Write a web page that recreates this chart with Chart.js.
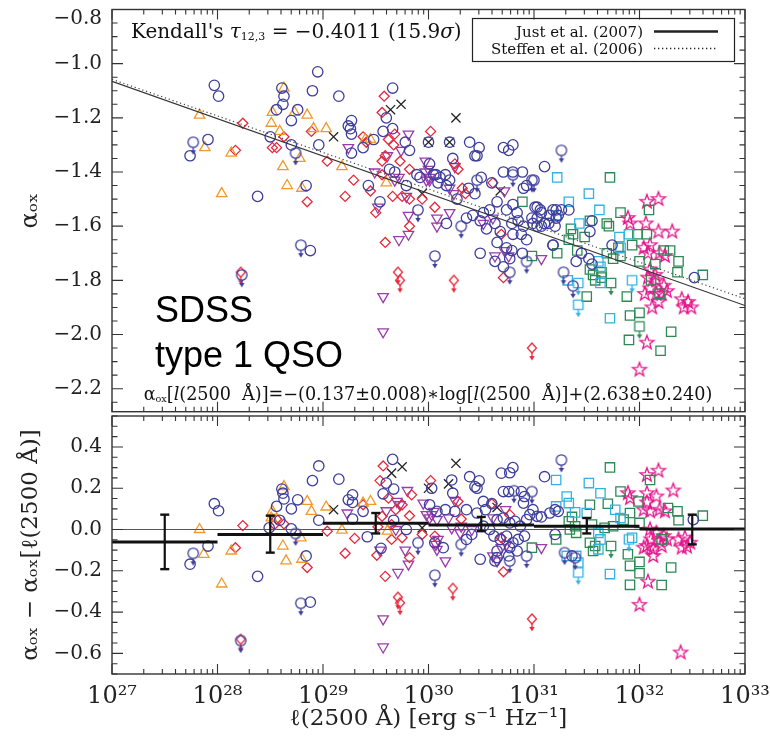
<!DOCTYPE html>
<html>
<head>
<meta charset="utf-8">
<script src="https://cdn.jsdelivr.net/npm/chart.js@4.4.0/dist/chart.umd.min.js"></script>
<style>
  html, body { margin: 0; padding: 0; background: #fff; }
  #wrap { position: relative; width: 770px; height: 741px; overflow: hidden; }
  #topChart { position: absolute; left: 0; top: 0; }
  #botChart { position: absolute; left: 0; top: 400px; }
</style>
</head>
<body>
<div id="wrap">
  <canvas id="topChart" width="770" height="420"></canvas>
  <canvas id="botChart" width="770" height="341"></canvas>
</div>
<script>
// x values are log10 of l(2500 A)

// ---- upper panel: alpha_ox vs luminosity ----
const topCircles = [
  [27.97,-1.08],[28.01,-1.12],[28.95,-1.03],[28.90,-1.10],[29.15,-1.12],[28.61,-1.09],[28.63,-1.12],
  [28.62,-1.15],[28.56,-1.17],[28.76,-1.17],[28.70,-1.21],[28.50,-1.27],[28.70,-1.30],[28.96,-1.30],
  [27.91,-1.28],[27.74,-1.34],[28.84,-1.45],[28.38,-1.49],[28.88,-1.69],[29.24,-1.23],[29.66,-1.09],
  [29.60,-1.20],[29.66,-1.24],[29.27,-1.21],[29.26,-1.24],[29.27,-1.26],[29.57,-1.25],[29.38,-1.31],
  [29.48,-1.28],[29.27,-1.33],[29.82,-1.32],[29.78,-1.29],[30.00,-1.29],[30.20,-1.29],[30.39,-1.29],
  [30.48,-1.31],[30.44,-1.34],[30.46,-1.34],[30.23,-1.35],[30.71,-1.31],[30.80,-1.30],[30.76,-1.32],
  [31.10,-1.38],[30.71,-1.40],[30.80,-1.40],[30.89,-1.40],[29.63,-1.39],[29.68,-1.40],[30.01,-1.37],
  [30.16,-1.41],[30.07,-1.41],[29.43,-1.45],[29.79,-1.45],[29.89,-1.41],[29.92,-1.42],[30.05,-1.41],
  [30.11,-1.42],[30.09,-1.44],[30.20,-1.43],[30.17,-1.45],[30.27,-1.50],[30.38,-1.46],[30.44,-1.48],
  [30.50,-1.42],[30.60,-1.44],[30.90,-1.46],[30.93,-1.45],[29.54,-1.51],[30.36,-1.57],[30.42,-1.56],
  [30.49,-1.58],[30.52,-1.55],[30.58,-1.54],[30.65,-1.51],[30.17,-1.59],[30.55,-1.61],[30.63,-1.59],
  [30.68,-1.62],[30.74,-1.54],[30.80,-1.52],[30.84,-1.55],[30.79,-1.59],[30.85,-1.58],[30.90,-1.60],
  [30.80,-1.63],[30.88,-1.63],[30.93,-1.65],[31.03,-1.53],[31.07,-1.55],[31.15,-1.56],[30.98,-1.57],
  [31.03,-1.60],[31.10,-1.59],[31.18,-1.67],[30.49,-1.70],[30.65,-1.66],[30.74,-1.68],[30.79,-1.69],
  [30.63,-1.73],[30.77,-1.72],[30.71,-1.75],[30.89,-1.70],[31.21,-1.54],[31.23,-1.56],[31.01,-1.53],
  [31.06,-1.54],[31.03,-1.57],[31.18,-1.54],[31.26,-1.54],[31.33,-1.54],[31.21,-1.57],[31.14,-1.59],
  [31.07,-1.60],[30.99,-1.59],[31.20,-1.60],[31.55,-1.58],[31.53,-1.62],[31.74,-1.67],[31.18,-1.67],
  [31.45,-1.70],[31.52,-1.72],[31.40,-1.73],[31.55,-1.74],[32.52,-1.79]
];
const topCircleLimits = [
  [28.74,-1.33],[27.77,-1.29],[28.79,-1.67],[28.23,-1.78],[31.26,-1.32],[30.80,-1.41],[30.46,-1.43],
  [30.98,-1.43],[29.90,-1.54],[30.31,-1.60],[30.06,-1.71],[30.77,-1.77],[30.93,-1.73],[31.00,-1.43],
  [31.28,-1.77],[31.37,-1.82]
];
const topTriangles = [
  [27.83,-1.19],[27.88,-1.31],[28.13,-1.33],[28.04,-1.48],[28.63,-1.09],[28.52,-1.18],[28.51,-1.22],
  [28.59,-1.25],[28.85,-1.19],[28.73,-1.18],[29.03,-1.24],[28.62,-1.38],[28.78,-1.35],[28.66,-1.45],
  [28.80,-1.46],[29.18,-1.38],[28.91,-1.24],[29.40,-1.28],[29.45,-1.28],[29.60,-1.44]
];
const topDiamonds = [
  [28.24,-1.22],[28.17,-1.32],[28.52,-1.31],[28.56,-1.31],[28.63,-1.27],[28.89,-1.25],[29.04,-1.36],
  [28.85,-1.51],[29.21,-1.49],[29.58,-1.12],[29.56,-1.18],[29.68,-1.26],[29.38,-1.27],[29.41,-1.29],
  [30.02,-1.25],[29.62,-1.28],[29.67,-1.30],[29.59,-1.34],[29.56,-1.36],[29.82,-1.39],[29.73,-1.36],
  [30.25,-1.37],[30.28,-1.39],[29.29,-1.43],[29.45,-1.47],[29.56,-1.41],[30.32,-1.46],[30.35,-1.48],
  [30.61,-1.44],[29.66,-1.49],[29.75,-1.49],[29.82,-1.50],[29.94,-1.50],[29.50,-1.55],[30.06,-1.53],
  [29.82,-1.60],[29.59,-1.66],[30.69,-1.63],[30.71,-1.79]
];
const topDiamondLimits = [[28.22,-1.77],[29.71,-1.77],[29.73,-1.80],[30.24,-1.80],[30.98,-2.05]];
const topInvTriangles = [
  [29.24,-1.31],[29.81,-1.26],[29.61,-1.34],[29.74,-1.32],[29.97,-1.36],[30.25,-1.38],[29.49,-1.40],
  [29.68,-1.43],[29.72,-1.42],[29.98,-1.43],[30.01,-1.42],[29.97,-1.40],[30.01,-1.43],[30.00,-1.39],
  [30.20,-1.46],[30.24,-1.48],[30.72,-1.47],[29.79,-1.49],[29.52,-1.53],[29.81,-1.56],[30.08,-1.57],
  [30.20,-1.55],[30.08,-1.60],[29.81,-1.63],[29.72,-1.65],[30.52,-1.59],[30.61,-1.57],[30.63,-1.71],
  [30.72,-1.69],[30.76,-1.71],[31.07,-1.72],[29.57,-1.86],[29.57,-1.99]
];
const topCrosses = [
  [29.10,-1.27],[29.64,-1.17],[29.74,-1.15],[30.26,-1.20],[30.00,-1.29],[30.20,-1.29],[29.94,-1.48],[30.68,-1.47]
];
const topCyanSquares = [
  [31.22,-1.42],[31.52,-1.48],[31.33,-1.51],[31.62,-1.54],[31.21,-1.56],[31.43,-1.59],[31.81,-1.64],
  [31.90,-1.63],[31.82,-1.68],[31.61,-1.73],[31.63,-1.75],[31.32,-1.80],[31.63,-1.81],[31.72,-1.94]
];
const topCyanLimits = [[31.42,-1.81],[31.93,-1.80],[31.42,-1.89]];
const topGreenSquares = [
  [31.72,-1.42],[31.82,-1.55],[31.53,-1.58],[31.69,-1.59],[31.71,-1.60],[31.35,-1.61],[31.37,-1.63],
  [31.33,-1.65],[31.48,-1.64],[31.98,-1.63],[32.07,-1.63],[31.80,-1.68],[31.93,-1.67],[31.69,-1.70],
  [31.75,-1.72],[31.82,-1.71],[31.22,-1.70],[31.41,-1.69],[31.53,-1.76],[31.56,-1.78],[31.64,-1.77],
  [31.58,-1.80],[31.64,-1.79],[32.00,-1.73],[32.15,-1.74],[32.23,-1.69],[32.29,-1.69],[32.37,-1.73],
  [32.36,-1.77],[32.60,-1.78],[32.11,-1.80],[32.19,-1.85],[31.88,-1.86],[31.50,-1.86],[31.91,-1.93],
  [32.00,-1.92],[32.30,-1.99],[31.90,-2.02],[32.20,-2.06],[32.09,-1.54],[30.89,-1.51],[30.98,-1.71]
];
const topGreenLimits = [[31.73,-1.81],[32.00,-1.97]];
const topStars = [
  [32.07,-1.51],[32.18,-1.50],[31.89,-1.57],[31.91,-1.59],[32.06,-1.59],[32.18,-1.62],[32.31,-1.62],
  [32.04,-1.68],[32.10,-1.67],[32.08,-1.70],[32.19,-1.70],[32.24,-1.71],[32.10,-1.76],[32.15,-1.78],
  [32.08,-1.79],[32.16,-1.80],[32.23,-1.82],[32.10,-1.83],[32.05,-1.85],[32.16,-1.85],[32.21,-1.85],
  [32.26,-1.84],[32.18,-1.88],[32.12,-1.90],[32.40,-1.87],[32.46,-1.88],[32.42,-1.90],[32.49,-1.90],
  [32.07,-2.03],[32.00,-2.13]
];
const justLine = [[27, -1.065], [33, -1.893]];
const steffenLine = [[27, -1.058], [33, -1.868]];

// ---- lower panel: residuals ----
const botCircles = [
  [27.97,0.125],[28.01,0.091],[27.91,-0.080],[27.74,-0.168],[28.38,-0.227],[28.96,0.308],[28.90,0.237],
  [28.61,0.196],[28.62,0.176],[28.63,0.148],[28.56,0.112],[28.76,0.144],[28.70,0.100],[28.49,0.008],
  [28.59,0.045],[28.70,0.003],[28.96,0.045],[28.84,-0.128],[28.88,-0.352],[29.15,0.244],[29.28,0.168],
  [29.24,0.144],[29.28,0.131],[29.28,0.051],[29.38,0.088],[29.42,-0.035],[29.55,-0.091],[29.57,0.173],
  [29.66,0.340],[29.60,0.225],[29.67,0.196],[29.67,0.045],[29.79,0.000],[30.03,0.200],[30.01,0.120],
  [30.22,0.240],[30.23,0.176],[30.39,0.256],[30.48,0.236],[30.44,0.208],[30.46,0.200],[30.69,0.273],
  [30.77,0.275],[30.80,0.300],[30.76,0.184],[30.71,0.184],[30.88,0.184],[31.10,0.256],[30.91,0.160],
  [30.90,0.128],[30.52,0.136],[30.60,0.125],[30.54,0.096],[30.36,0.096],[30.46,0.080],[30.16,0.096],
  [30.08,0.088],[30.25,0.088],[30.65,0.048],[30.71,0.056],[30.77,0.032],[30.82,0.040],[30.87,0.016],
  [30.93,0.048],[30.96,0.072],[30.99,0.096],[31.03,0.064],[31.07,0.061],[31.15,0.080],[31.20,0.096],
  [31.23,0.088],[30.52,0.016],[30.58,0.000],[30.62,-0.032],[30.68,-0.048],[30.74,-0.032],[30.80,-0.064],
  [30.85,-0.048],[30.91,-0.032],[30.77,-0.088],[30.84,-0.104],[30.76,-0.128],[30.65,-0.104],[30.65,-0.136],
  [30.63,-0.152],[30.49,-0.144],[30.14,-0.088],[30.06,-0.064],[30.41,-0.024],[30.36,-0.048],[31.20,-0.024],
  [31.36,-0.128],[32.51,0.048]
];
const botCircleLimits = [
  [27.77,-0.115],[28.74,-0.019],[28.79,-0.357],[28.22,-0.538],[29.90,-0.064],[30.06,-0.221],[30.81,0.188],
  [30.98,0.184],[31.26,0.337],[30.93,-0.128],[31.29,-0.112],[31.39,-0.136],[30.77,-0.152],[30.31,-0.072]
];
const botTriangles = [
  [27.83,0.000],[27.87,-0.120],[28.13,-0.104],[28.04,-0.264],[28.63,0.208],[28.52,0.088],[28.51,0.056],
  [28.85,0.136],[28.89,0.088],[28.62,-0.080],[28.79,-0.040],[28.65,-0.152],[28.80,-0.144],[29.03,0.109],
  [29.18,-0.003],[29.38,0.128],[29.45,0.136],[29.61,-0.008]
];
const botDiamonds = [
  [28.24,0.019],[28.17,-0.088],[28.54,0.024],[28.56,0.051],[28.63,0.027],[28.85,-0.184],[29.04,-0.008],
  [29.21,-0.115],[29.30,-0.043],[29.38,0.120],[29.57,0.308],[29.54,0.237],[29.62,0.152],[29.69,0.096],
  [29.75,0.120],[29.56,0.064],[29.52,0.013],[29.65,0.024],[29.51,-0.125],[29.65,-0.048],[29.75,-0.040],
  [29.82,-0.136],[29.59,-0.227],[30.02,0.237],[29.84,0.168],[29.82,0.067],[29.94,-0.024],[30.06,-0.032],
  [30.28,0.136],[30.60,0.125],[30.31,0.051],[30.69,-0.040],[30.71,-0.205],[30.77,0.072]
];
const botDiamondLimits = [[28.22,-0.532],[29.71,-0.328],[29.73,-0.355],[30.23,-0.285],[30.98,-0.433]];
const botInvTriangles = [
  [29.23,0.080],[29.60,0.091],[29.70,0.136],[29.73,0.120],[29.80,0.189],[29.95,0.128],[29.98,0.072],
  [30.05,0.088],[30.01,0.056],[29.69,0.000],[29.78,-0.100],[29.81,-0.168],[29.71,-0.208],[30.07,-0.072],
  [29.57,-0.433],[29.57,-0.569],[29.54,-0.100],[30.25,0.141],[30.19,0.056],[30.08,0.048],[30.03,0.072],
  [30.22,0.008],[30.31,0.016],[30.09,-0.048],[30.08,-0.096],[30.16,-0.152],[30.30,-0.016],[30.41,0.000],
  [30.61,-0.128],[30.65,-0.152],[30.69,-0.088],[30.74,-0.072],[31.07,-0.088],[30.73,0.096],[30.61,0.056]
];
const botCrosses = [
  [29.10,0.096],[29.65,0.273],[29.75,0.304],[30.00,0.200],[29.94,0.008],[30.26,0.321],[30.19,0.221],[30.65,0.107]
];
const botCyanSquares = [
  [31.21,0.240],[31.52,0.225],[31.63,0.176],[31.31,0.160],[31.33,0.128],[31.39,0.083],[31.50,0.080],
  [31.61,-0.016],[31.63,-0.048],[31.61,-0.096],[31.77,0.096],[31.82,0.056],[31.93,-0.040],[31.40,-0.128],
  [31.42,-0.160],[31.72,-0.216],[31.21,0.112],[31.31,-0.128]
];
const botCyanLimits = [[31.90,-0.048],[31.42,-0.208]];
const botGreenSquares = [
  [31.72,0.301],[31.82,0.184],[31.99,0.136],[31.70,0.125],[31.53,0.120],[31.36,0.061],[31.33,0.040],
  [31.39,0.016],[31.40,-0.016],[31.34,0.000],[31.55,0.024],[31.67,0.008],[31.75,0.016],[31.85,0.048],
  [31.91,0.080],[32.00,0.032],[32.10,0.240],[31.21,-0.048],[30.98,-0.088],[31.53,-0.064],[31.58,-0.080],
  [31.56,-0.104],[31.89,-0.120],[31.91,-0.176],[32.00,-0.157],[32.00,-0.212],[31.91,-0.268],[32.21,-0.269],
  [32.30,-0.184],[32.36,0.088],[32.37,0.045],[32.60,0.067],[32.27,0.104],[32.21,-0.048]
];
const botGreenLimits = [[31.73,-0.080]];
const botStars = [
  [32.07,0.264],[32.18,0.285],[31.89,0.176],[31.91,0.152],[32.07,0.176],[32.16,0.160],[32.07,0.131],
  [32.32,0.189],[32.04,0.096],[32.10,0.088],[32.19,0.096],[32.24,0.088],[32.10,0.000],[32.16,-0.016],
  [32.23,-0.032],[32.11,-0.048],[32.19,-0.056],[32.26,-0.048],[32.07,-0.080],[32.13,-0.096],[32.21,-0.080],
  [32.13,-0.128],[32.04,-0.088],[32.37,-0.048],[32.43,-0.040],[32.48,-0.064],[32.40,-0.088],[32.45,-0.083],
  [32.08,-0.253],[32.00,-0.365],[32.39,-0.596]
];
const zeroLine = [[27, 0], [33, 0]];
const binEdges = [27, 28, 29, 30, 31, 32, 33];
const binMeans = [-0.061, -0.024, 0.030, 0.022, 0.016, 0.003];
const binCenters = [27.5, 28.5, 29.5, 30.5, 31.5, 32.5];
const binErrLow = [-0.192, -0.112, -0.019, -0.008, -0.019, -0.072];
const binErrHigh = [0.072, 0.067, 0.080, 0.061, 0.056, 0.072];

const xTicks = [27, 28, 29, 30, 31, 32, 33];
const topYTicks = [-2.2, -2.0, -1.8, -1.6, -1.4, -1.2, -1.0, -0.8];
const botYTicks = [-0.6, -0.4, -0.2, 0.0, 0.2, 0.4];

const BLUE = '#3e3e9c', ORANGE = '#f09a2e', RED = '#e62a3c', PURPLE = '#9a3cab';
const CYAN = '#32b2e2', GREEN = '#2d8a55', MAGENTA = '#e3178c', INK = '#222';
const SERIF = '"DejaVu Serif", "Liberation Serif", serif';

// marker pictures for shapes Chart.js has no style for (stars, upper-limit arrows)
function markerImage(shape, color, arrow) {
  const w = 20, h = arrow ? 42 : 20;
  const c = document.createElement('canvas');
  c.width = w; c.height = h;
  const g = c.getContext('2d');
  const cx = w / 2, cy = h / 2;
  g.strokeStyle = color; g.fillStyle = color; g.lineWidth = 1.3;
  g.beginPath();
  if (shape === 'circle') {
    g.arc(cx, cy, 5.2, 0, Math.PI * 2);
  } else if (shape === 'diamond') {
    g.moveTo(cx, cy - 5); g.lineTo(cx + 4.5, cy); g.lineTo(cx, cy + 5); g.lineTo(cx - 4.5, cy); g.closePath();
  } else if (shape === 'square') {
    g.rect(cx - 4.7, cy - 4.7, 9.4, 9.4);
  } else if (shape === 'star') {
    for (let i = 0; i < 10; i++) {
      const r = i % 2 ? 3 : 7.3;
      const a = -Math.PI / 2 + i * Math.PI / 5;
      g.lineTo(cx + r * Math.cos(a), cy + r * Math.sin(a));
    }
    g.closePath();
  }
  g.stroke();
  if (arrow) {
    g.beginPath(); g.moveTo(cx, cy + 5); g.lineTo(cx, cy + 10); g.stroke();
    g.beginPath(); g.moveTo(cx - 2.7, cy + 8); g.lineTo(cx + 2.7, cy + 8); g.lineTo(cx, cy + 12.5); g.closePath(); g.fill();
  }
  return c;
}

function pts(arr) { return arr.map(p => ({ x: p[0], y: p[1] })); }

function marks(arr, style, color, radius, extra) {
  return Object.assign({
    type: 'scatter', data: pts(arr), showLine: false,
    pointStyle: style, pointRadius: radius, pointHoverRadius: radius,
    pointBorderColor: color, pointBackgroundColor: 'rgba(0,0,0,0)', pointBorderWidth: 1.3
  }, extra || {});
}

function pointSets(d) {
  return [
    marks(d.circles, 'circle', BLUE, 5.2),
    marks(d.circleLim, markerImage('circle', BLUE, true), BLUE, 5),
    marks(d.tri, 'triangle', ORANGE, 6),
    marks(d.dia, 'rectRot', RED, 5),
    marks(d.diaLim, markerImage('diamond', RED, true), RED, 5),
    marks(d.inv, 'triangle', PURPLE, 6, { pointRotation: 180 }),
    marks(d.cross, 'crossRot', INK, 6.5),
    marks(d.cyan, 'rect', CYAN, 6.6),
    marks(d.cyanLim, markerImage('square', CYAN, true), CYAN, 5),
    marks(d.green, 'rect', GREEN, 6.6),
    marks(d.greenLim, markerImage('square', GREEN, true), GREEN, 5),
    marks(d.stars, markerImage('star', MAGENTA, false), MAGENTA, 7)
  ];
}

function lineSet(arr, color, width, dash) {
  return {
    type: 'scatter', data: pts(arr), showLine: true, borderColor: color, borderWidth: width,
    borderDash: dash || [], pointRadius: 0, pointHoverRadius: 0, fill: false
  };
}

const SUP = { '0': '⁰', '1': '¹', '2': '²', '3': '³', '4': '⁴', '5': '⁵', '6': '⁶', '7': '⁷', '8': '⁸', '9': '⁹' };
function powerLabel(v) { return '10' + String(v).split('').map(c => SUP[c]).join(''); }
function yLabel(v) { const s = Math.abs(v).toFixed(1); return v < -1e-9 ? '−' + s : s; }
// the top label sits just under the frame corner, as in the original
function topYLabel(v) { return Math.abs(v + 0.8) < 1e-9 ? ['', yLabel(v)] : yLabel(v); }

// box with inward ticks on all four sides, like the original plotting package
const frameTicks = {
  id: 'frameTicks',
  afterDatasetsDraw(chart) {
    const { ctx, chartArea: a, scales } = chart;
    const xs = scales.x, ys = scales.y;
    ctx.save();
    ctx.strokeStyle = '#333';
    ctx.lineWidth = 1.4;
    ctx.strokeRect(a.left, a.top, a.right - a.left, a.bottom - a.top);
    ctx.lineWidth = 1.1;
    ctx.beginPath();
    for (let d = 27; d <= 33; d++) {
      for (let k = 1; k <= 9; k++) {
        const v = d + Math.log10(k);
        if (v > 33.0001) break;
        const px = xs.getPixelForValue(v);
        const len = k === 1 ? 10 : 5;
        ctx.moveTo(px, a.bottom); ctx.lineTo(px, a.bottom - len);
        ctx.moveTo(px, a.top); ctx.lineTo(px, a.top + len);
      }
    }
    const lo = Math.round(ys.min * 100), hi = Math.round(ys.max * 100);
    for (let n = Math.ceil(lo / 5) * 5; n <= hi; n += 5) {
      const py = ys.getPixelForValue(n / 100);
      const len = n % 20 === 0 ? 11 : 5.5;
      ctx.moveTo(a.left, py); ctx.lineTo(a.left + len, py);
      ctx.moveTo(a.right, py); ctx.lineTo(a.right - len, py);
    }
    ctx.stroke();
    ctx.restore();
  }
};

// mixed normal / italic / subscript text
function richWidth(ctx, parts, size) {
  let w = 0;
  parts.forEach(([t, k]) => {
    ctx.font = (k === 'i' ? 'italic ' : '') + (k === 's' ? size * 0.55 : size) + 'px ' + SERIF;
    w += ctx.measureText(t).width;
  });
  return w;
}
function drawRich(ctx, parts, x, y, size) {
  let cx = x;
  parts.forEach(([t, k]) => {
    ctx.font = (k === 'i' ? 'italic ' : '') + (k === 's' ? size * 0.55 : size) + 'px ' + SERIF;
    ctx.fillText(t, cx, k === 's' ? y + size * 0.12 : y);
    cx += ctx.measureText(t).width;
  });
}

const topNotes = {
  id: 'topNotes',
  afterDraw(chart) {
    const ctx = chart.ctx;
    ctx.save();
    ctx.fillStyle = '#111';
    ctx.textBaseline = 'alphabetic';
    ctx.textAlign = 'left';
    drawRich(ctx, [["Kendall's ", 'n'], ['τ', 'i'], ['12,3', 's'], [' = −0.4011 (15.9', 'n'], ['σ', 'i'], [')', 'n']], 131, 38, 20);

    // legend box
    ctx.strokeStyle = '#222';
    ctx.lineWidth = 1.2;
    ctx.strokeRect(472.5, 18.5, 262, 43);
    ctx.font = '15px ' + SERIF;
    ctx.textAlign = 'right';
    ctx.fillText('Just et al. (2007)', 643, 37);
    ctx.fillText('Steffen et al. (2006)', 643, 54);
    ctx.lineWidth = 2.4;
    ctx.beginPath(); ctx.moveTo(654, 31.5); ctx.lineTo(718, 31.5); ctx.stroke();
    ctx.lineWidth = 1.3;
    ctx.setLineDash([1.3, 2.7]);
    ctx.beginPath(); ctx.moveTo(654, 48.5); ctx.lineTo(718, 48.5); ctx.stroke();
    ctx.setLineDash([]);

    ctx.textAlign = 'left';
    ctx.fillStyle = '#000';
    ctx.font = '36px "Liberation Sans", Arial, sans-serif';
    ctx.fillText('SDSS', 155, 322);
    ctx.fillText('type 1 QSO', 155, 367);

    ctx.fillStyle = '#111';
    const formula = [['α', 'n'], ['ox', 's'], ['[', 'n'], ['l', 'i'], ['(2500  Å)]=−(0.137±0.008)∗log[', 'n'],
      ['l', 'i'], ['(2500  Å)]+(2.638±0.240)', 'n']];
    const fw = richWidth(ctx, formula, 17.6);
    drawRich(ctx, formula, 428 - fw / 2, 400, 17.6);
    ctx.restore();
  }
};

function fixY(width) {
  return function (scale) { scale.width = width; scale.paddingTop = 0; scale.paddingBottom = 0; };
}

const topData = {
  circles: topCircles, circleLim: topCircleLimits, tri: topTriangles, dia: topDiamonds,
  diaLim: topDiamondLimits, inv: topInvTriangles, cross: topCrosses, cyan: topCyanSquares,
  cyanLim: topCyanLimits, green: topGreenSquares, greenLim: topGreenLimits, stars: topStars
};
const botData = {
  circles: botCircles, circleLim: botCircleLimits, tri: botTriangles, dia: botDiamonds,
  diaLim: botDiamondLimits, inv: botInvTriangles, cross: botCrosses, cyan: botCyanSquares,
  cyanLim: botCyanLimits, green: botGreenSquares, greenLim: botGreenLimits, stars: botStars
};

new Chart(document.getElementById('topChart'), {
  type: 'scatter',
  data: {
    datasets: [
      lineSet(justLine, '#333', 1.2),
      lineSet(steffenLine, '#444', 1.2, [1.2, 2.8])
    ].concat(pointSets(topData))
  },
  options: {
    responsive: false,
    animation: false,
    events: [],
    layout: { padding: { top: 9.5, right: 25, bottom: 4, left: 0 } },
    plugins: { legend: { display: false }, tooltip: { enabled: false } },
    scales: {
      x: { type: 'linear', min: 27, max: 33, display: false },
      y: {
        type: 'linear', min: -2.285, max: -0.8,
        afterBuildTicks: s => { s.ticks = topYTicks.map(v => ({ value: v })); },
        afterFit: fixY(112),
        grid: { display: false, drawTicks: false },
        border: { display: false },
        ticks: { callback: topYLabel, padding: 10, color: '#222', font: { family: SERIF, size: 20, lineHeight: 0.95 } },
        title: { display: true, text: 'αₒₓ', color: '#222', padding: { top: 16 }, font: { family: SERIF, size: 24 } }
      }
    }
  },
  plugins: [frameTicks, topNotes]
});

const binSegments = [];
binMeans.forEach((m, i) => {
  binSegments.push([binEdges[i], m], [binEdges[i + 1], m], [binEdges[i + 1], null]);
});
const errBars = [];
binCenters.forEach((c, i) => {
  errBars.push([c, binErrLow[i]], [c, binErrHigh[i]], [c, null]);
});

new Chart(document.getElementById('botChart'), {
  type: 'scatter',
  data: {
    datasets: [
      Object.assign(lineSet(binSegments, '#111', 3), { spanGaps: false }),
      Object.assign(lineSet(errBars, '#111', 2.2), {
        spanGaps: false, pointStyle: 'line', pointRadius: 4.5, pointBorderColor: '#111', pointBorderWidth: 2.4
      }),
      lineSet(zeroLine, '#555', 1)
    ].concat(pointSets(botData))
  },
  options: {
    responsive: false,
    animation: false,
    events: [],
    layout: { padding: { top: 16, right: 25, bottom: 0, left: 0 } },
    plugins: { legend: { display: false }, tooltip: { enabled: false } },
    scales: {
      x: {
        type: 'linear', min: 27, max: 33,
        afterBuildTicks: s => { s.ticks = xTicks.map(v => ({ value: v })); },
        afterFit: s => { s.height = 67; s.paddingLeft = 0; s.paddingRight = 0; },
        grid: { display: false, drawTicks: false },
        border: { display: false },
        ticks: { callback: powerLabel, padding: 8, maxRotation: 0, color: '#222', font: { family: SERIF, size: 24 } },
        title: { display: true, text: 'ℓ(2500 Å) [erg s⁻¹ Hz⁻¹]', color: '#222', padding: { bottom: 8 }, font: { family: SERIF, size: 23 } }
      },
      y: {
        type: 'linear', min: -0.7, max: 0.55,
        afterBuildTicks: s => { s.ticks = botYTicks.map(v => ({ value: v })); },
        afterFit: fixY(112),
        grid: { display: false, drawTicks: false },
        border: { display: false },
        ticks: { callback: yLabel, padding: 10, color: '#222', font: { family: SERIF, size: 20 } },
        title: { display: true, text: 'αₒₓ − αₒₓ[ℓ(2500 Å)]', color: '#222', padding: { top: 17 }, font: { family: SERIF, size: 23 } }
      }
    }
  },
  plugins: [frameTicks]
});
</script>
</body>
</html>
